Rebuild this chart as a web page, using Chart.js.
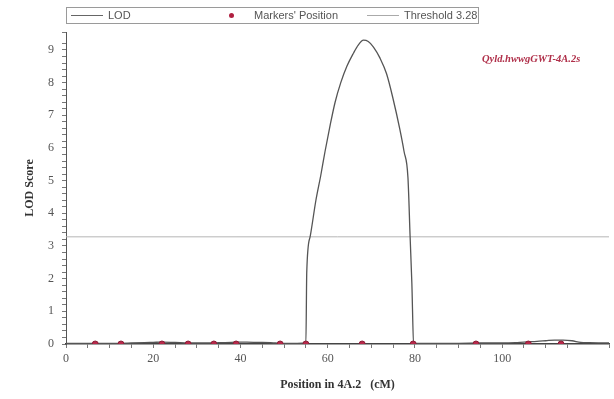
<!DOCTYPE html>
<html>
<head>
<meta charset="utf-8">
<script src="https://cdn.jsdelivr.net/npm/chart.js@4.4.1/dist/chart.umd.min.js"></script>
<style>
  html, body { margin: 0; padding: 0; background: #fff; }
  #wrap { position: relative; width: 614px; height: 399px; }
  #legend { position: absolute; left: 66px; top: 7px; width: 411px; height: 15px;
    border: 1px solid #9a9a9a; font-family: "Liberation Sans", Arial, sans-serif; font-size: 11px; color: #555; }
  #legend .item { position: absolute; top: 0; height: 15px; line-height: 15px; white-space: nowrap; }
  #legend .ln { position: absolute; top: 7px; height: 0; border-top: 1px solid #666; }
  #legend .dot { position: absolute; top: 5px; width: 5px; height: 5px; border-radius: 50%; background: #b02040; }
  #anno { position: absolute; left: 482px; top: 53px; font-family: "Liberation Serif", "Times New Roman", serif;
    font-style: italic; font-weight: bold; font-size: 10.5px; color: #b0304a; white-space: nowrap; }
</style>
</head>
<body>
<div id="wrap">
  <canvas id="c" width="614" height="399"></canvas>
  <div id="legend">
    <span class="ln" style="left:4px;width:32px"></span><span class="item" style="left:41px">LOD</span>
    <span class="dot" style="left:162px"></span><span class="item" style="left:187px">Markers' Position</span>
    <span class="ln" style="left:300px;width:32px;border-top-color:#aaa"></span><span class="item" style="left:337px">Threshold 3.28</span>
  </div>
  <div id="anno">Qyld.hwwgGWT-4A.2s</div>
</div>
<script>
// ---- data ----
const lodPositions = [0, 5, 10, 15, 18, 20, 22, 25, 28, 30, 33, 35, 38, 40, 43, 45, 48, 50, 53, 55.0,
  55.2, 56.0, 57.3, 58.4, 59.4, 60.6, 61.7, 63.0, 64.4, 65.9, 67.0, 68.2, 69.3, 70.5, 72.0, 73.5, 75.0, 76.5, 77.5, 78.4,
  78.9, 79.3, 79.7, 80, 85, 90, 95, 100, 103, 105, 108, 110, 112, 114, 116, 118, 120, 124.5];
const lodValues = [0.02, 0.02, 0.02, 0.03, 0.04, 0.05, 0.06, 0.05, 0.03, 0.03, 0.03, 0.04, 0.05, 0.06, 0.05, 0.05, 0.03, 0.02, 0.02, 0.03,
  2.2, 3.3, 4.4, 5.15, 5.9, 6.72, 7.4, 8.0, 8.5, 8.9, 9.15, 9.3, 9.26, 9.09, 8.75, 8.27, 7.5, 6.6, 5.9, 5.1,
  3.28, 1.85, 0.03, 0.02, 0.02, 0.02, 0.03, 0.03, 0.04, 0.06, 0.08, 0.1, 0.12, 0.12, 0.1, 0.05, 0.04, 0.03];
const markerPositions = [6.7, 12.6, 22.0, 28.0, 33.9, 39.0, 49.1, 55.0, 67.9, 79.6, 94.0, 106.0, 113.5];
const markerValues = markerPositions.map(() => 0);
const thresholdValue = 3.28;
const xRange = [0, 124.5];
const yRange = [0, 9.55];
const xTickLabels = [0, 20, 40, 60, 80, 100, 120];
const yTickLabels = [0, 1, 2, 3, 4, 5, 6, 7, 8, 9];
const annotation = "Qyld.hwwgGWT-4A.2s";

document.getElementById('anno').textContent = annotation;

const lodData = lodPositions.map((x, i) => ({ x, y: lodValues[i] }));
const markerData = markerPositions.map((x, i) => ({ x, y: markerValues[i] }));
const thresholdData = xRange.map(x => ({ x, y: thresholdValue }));

const tickFont = { family: "'Liberation Serif', 'Times New Roman', serif", size: 12 };
const titleFont = { family: "'Liberation Serif', 'Times New Roman', serif", size: 12, weight: 'bold' };

new Chart(document.getElementById('c'), {
  type: 'scatter',
  data: {
    datasets: [
      { label: 'Markers\' Position', data: markerData, showLine: false, pointRadius: 3,
        pointBackgroundColor: '#b8284a', pointBorderColor: '#8a2038', pointBorderWidth: 1, order: 0 },
      { label: 'LOD', data: lodData, showLine: true, borderColor: '#555', borderWidth: 1.3,
        pointRadius: 0, cubicInterpolationMode: 'monotone', order: 1 },
      { label: 'Threshold 3.28', data: thresholdData, showLine: true, borderColor: '#b5b5b5', borderWidth: 1,
        pointRadius: 0, order: 2 }
    ]
  },
  options: {
    responsive: false,
    animation: false,
    layout: { padding: { top: 32, right: 5, left: 0, bottom: 0 } },
    plugins: { legend: { display: false }, tooltip: { enabled: false } },
    scales: {
      x: {
        type: 'linear', min: xRange[0], max: xRange[1],
        afterFit: s => { s.height = 55; },
        ticks: { stepSize: 5, autoSkip: false, maxRotation: 0, padding: 4, color: '#555', font: tickFont,
          callback: v => xTickLabels.includes(Math.round(v * 1000) / 1000) ? String(v) : '' },
        grid: { drawOnChartArea: false, drawTicks: true, tickLength: 4, tickColor: '#777' },
        border: { color: '#444', width: 1.5 },
        title: { display: true, text: 'Position in 4A.2   (cM)', font: titleFont, color: '#333', padding: { top: 0, bottom: 7 } }
      },
      y: {
        type: 'linear', min: yRange[0], max: yRange[1],
        afterFit: s => { s.width = 66; },
        ticks: { stepSize: 0.2, autoSkip: false, padding: 8, color: '#555', font: tickFont,
          callback: v => { const r = Math.round(v * 1000) / 1000; return yTickLabels.includes(r) ? String(r) : ''; } },
        grid: { drawOnChartArea: false, drawTicks: true, tickLength: 4, tickColor: '#777' },
        border: { color: '#555', width: 1 },
        title: { display: true, text: 'LOD Score', font: titleFont, color: '#333', padding: { top: 23, bottom: 0 } }
      }
    }
  }
});
</script>
</body>
</html>
